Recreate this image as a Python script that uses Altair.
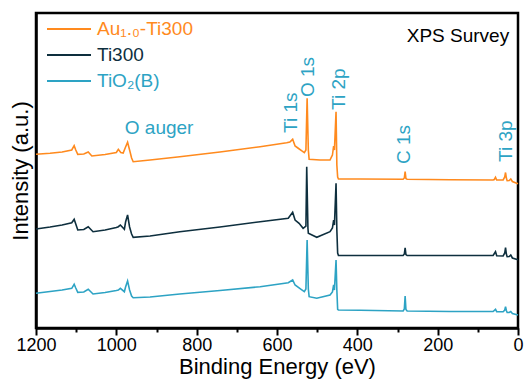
import altair as alt
import pandas as pd

# XPS survey spectra: binding energy (eV) and intensity (a.u., offset per sample)
be_au = [1200, 1165, 1135, 1111, 1105, 1101, 1096, 1081, 1070, 1061, 1028, 1000, 995, 989, 983,
         977, 972, 967, 962, 958, 916, 842, 742, 642, 576, 568, 561, 555, 548, 539, 532, 528,
         525, 522, 520, 493, 468, 464, 462, 459, 457, 453, 451, 449, 447, 393, 286, 283, 281,
         279, 276, 169, 62, 59, 56, 53, 37, 33, 31, 29, 27, 22, 18, 14, 0]
int_au = [173.7, 174.7, 176, 178, 182.3, 178, 173.7, 174, 176, 172, 173.5, 175.5, 178.7, 175.5, 175,
          181, 185.7, 178, 170, 166.3, 168, 171.3, 176, 181.3, 185.3, 186, 188.7, 182, 180, 177.3, 175.3, 178,
          229.7, 178, 168.7, 168, 168, 171.3, 173, 182, 178, 216.3, 163, 151, 149, 149, 148.7, 150, 156.3,
          149.5, 148.7, 148.3, 148, 148.5, 150.7, 148, 148, 151, 155.5, 150, 147.3, 147.5, 149, 146.5, 144.2]

be_ti300 = [1200, 1165, 1135, 1111, 1105, 1101, 1096, 1081, 1070, 1058, 1028, 1000, 995, 990, 980,
            977, 972, 967, 962, 958, 916, 842, 742, 642, 572, 561, 555, 545, 535, 528,
            526, 523, 522, 501, 468, 462, 459, 457, 453, 451, 449, 447, 393, 286, 283, 281,
            279, 276, 169, 62, 56, 53, 37, 33, 31, 29, 27, 22, 18, 14, 0]
int_ti300 = [99, 101, 103, 105.3, 108.7, 104, 98, 98.5, 101.3, 96.3, 98, 100.5, 101.3, 103, 98.7,
             106, 113, 101, 94, 90.7, 92, 96.3, 101, 106.3, 109.7, 115.7, 108, 104.7, 99.7, 102,
             161.3, 100, 94.7, 90.7, 96.3, 100, 108, 103, 144.7, 98, 75, 72.5, 72.5, 72.5, 74, 80.2,
             73.5, 72.5, 72.5, 72.5, 76.3, 72.3, 72, 75, 80.5, 74, 71.3, 71.5, 73, 70, 68.3]

be_tio2 = [1200, 1165, 1135, 1111, 1105, 1101, 1096, 1081, 1070, 1058, 1028, 1000, 995, 990, 980,
           977, 972, 967, 962, 958, 916, 842, 742, 642, 572, 561, 555, 540, 532, 528,
           525, 522, 520, 501, 468, 462, 459, 457, 453, 451, 449, 447, 393, 286, 283, 281,
           279, 276, 169, 62, 56, 53, 37, 33, 31, 29, 27, 22, 18, 14, 0]
int_tio2 = [34.7, 36.5, 38, 39.7, 43.7, 40, 35.7, 36, 38.7, 34, 35.5, 37.5, 38, 39.7, 36.3,
            41, 47, 38, 32, 30.3, 31, 34, 37.5, 41.3, 45.3, 48, 43, 38.7, 36.3, 39,
            88, 39, 31.3, 29.7, 33, 36, 43, 38, 68, 38, 18.7, 18, 17.7, 17, 19, 32,
            18.5, 17, 16.5, 16.5, 18.7, 16.3, 16.3, 18, 21.3, 17.5, 15.5, 15.5, 16.5, 14.5, 13]

series_names = ["Au\u2081.\u2080-Ti300", "Ti300", "TiO\u2082(B)"]
series_colors = ["#FF8A1E", "#0E2F3E", "#2DA3C4"]

# Peak assignments (vertical labels) and the O Auger label
peak_labels = ["Ti 1s", "O 1s", "Ti 2p", "C 1s", "Ti 3p"]
peak_be = [566, 524, 446, 284, 30]
peak_int = [195, 231, 218, 164, 166]

auger_label = ["O auger"]
auger_be = [979]
auger_int = [200]

FONT = "Liberation Sans"
ANNOT = "#2DA3C4"

rows = []
for name, bes, ints in zip(series_names, [be_au, be_ti300, be_tio2], [int_au, int_ti300, int_tio2]):
    for i, (b, v) in enumerate(zip(bes, ints)):
        rows.append({"series": name, "be": b, "intensity": v, "idx": i})
spectra = pd.DataFrame(rows)

peaks = pd.DataFrame({"label": peak_labels, "be": peak_be, "intensity": peak_int})
auger = pd.DataFrame({"label": auger_label, "be": auger_be, "intensity": auger_int})
title_df = pd.DataFrame({"label": ["XPS Survey"], "be": [277], "intensity": [286.3]})

x_scale = alt.Scale(domain=[0, 1200], reverse=True, nice=False)
y_scale = alt.Scale(domain=[0, 315], nice=False, zero=False)

label_color_expr = (
    "datum.value == 'Ti300' ? '#0E2F3E' : "
    "(datum.value == 'TiO\u2082(B)' ? '#2DA3C4' : '#FF8A1E')"
)

lines = alt.Chart(spectra).mark_line(strokeWidth=1.6).encode(
    x=alt.X(
        "be:Q",
        scale=x_scale,
        axis=alt.Axis(
            title="Binding Energy (eV)",
            values=list(range(0, 1201, 100)),
            format="d",
            labelExpr="datum.value % 200 == 0 ? datum.label : ''",
            labelFlush=False,
            labelOverlap=False,
            labelBound=False,
            tickSize={"condition": {"test": "datum.value % 200 == 0", "value": 7}, "value": 4},
            tickWidth=2,
            tickColor="black",
            domainColor="black",
            domainWidth=2.5,
            labelFont=FONT,
            labelFontSize=18,
            labelColor="black",
            labelPadding=1,
            titleFont=FONT,
            titleFontSize=22,
            titleFontWeight="normal",
            titleColor="black",
            titlePadding=2,
            grid=False,
        ),
    ),
    y=alt.Y(
        "intensity:Q",
        scale=y_scale,
        axis=alt.Axis(
            title="Intensity (a.u.)",
            labels=False,
            ticks=False,
            grid=False,
            domainColor="black",
            domainWidth=2.5,
            titleFont=FONT,
            titleFontSize=22,
            titleFontWeight="normal",
            titleColor="black",
            titlePadding=4,
        ),
    ),
    color=alt.Color(
        "series:N",
        scale=alt.Scale(domain=series_names, range=series_colors),
        legend=alt.Legend(
            title=None,
            orient="none",
            legendX=21,
            legendY=4,
            symbolType="M-2,0H2",
            symbolSize=484,
            symbolStrokeWidth=2,
            labelFont=FONT,
            labelFontSize=19,
            labelOffset=16,
            labelColor={"expr": label_color_expr},
            rowPadding=4,
            padding=0,
        ),
    ),
    order="idx:Q",
)

peak_text = alt.Chart(peaks).mark_text(
    angle=270, align="left", baseline="middle", font=FONT, fontSize=19, color=ANNOT
).encode(x=alt.X("be:Q", scale=x_scale), y=alt.Y("intensity:Q", scale=y_scale), text="label:N")

auger_text = alt.Chart(auger).mark_text(
    align="left", baseline="middle", font=FONT, fontSize=19, color=ANNOT
).encode(x=alt.X("be:Q", scale=x_scale), y=alt.Y("intensity:Q", scale=y_scale), text="label:N")

survey_text = alt.Chart(title_df).mark_text(
    align="left", baseline="alphabetic", font=FONT, fontSize=19, color="black"
).encode(x=alt.X("be:Q", scale=x_scale), y=alt.Y("intensity:Q", scale=y_scale), text="label:N")

chart = (
    alt.layer(lines, peak_text, auger_text, survey_text)
    .properties(
        width=482,
        height=315,
        padding={"left": 36, "top": 13, "right": 7, "bottom": 55},
        autosize=alt.AutoSizeParams(type="none"),
        background="white",
    )
    .configure_view(stroke="black", strokeWidth=2.5)
)

chart.save("out.html", embed_options={"renderer": "svg", "actions": False})
